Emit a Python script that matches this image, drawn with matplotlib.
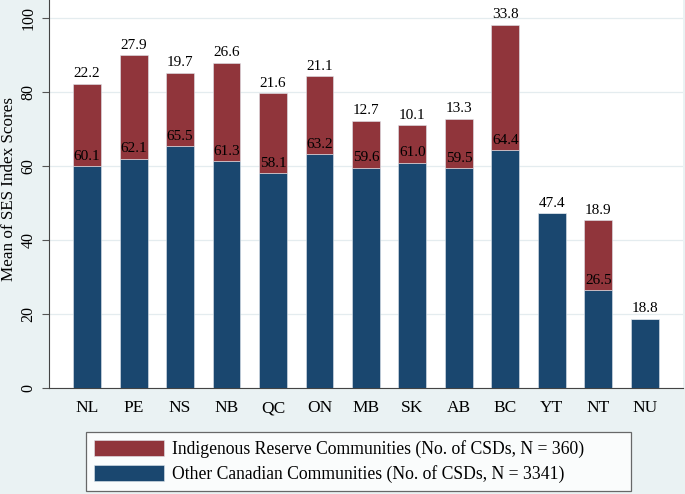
import matplotlib.pyplot as plt
import numpy as np

plt.rcParams['font.family'] = ['Liberation Serif', 'DejaVu Serif']

provinces = ["NL", "PE", "NS", "NB", "QC", "ON", "MB", "SK", "AB", "BC", "YT", "NT", "NU"]
other_vals = [60.1, 62.1, 65.5, 61.3, 58.1, 63.2, 59.6, 61.0, 59.5, 64.4, 47.4, 26.5, 18.8]
reserve_vals = [22.2, 27.9, 19.7, 26.6, 21.6, 21.1, 12.7, 10.1, 13.3, 33.8, None, 18.9, None]

navy = "#1a476f"
maroon = "#90353b"
bg = "#eaf2f3"

fig = plt.figure(figsize=(6.85, 4.94), dpi=100, facecolor=bg)
ax = fig.add_axes([0.0715, 0.2146, 0.9255, 0.7854])
ax.set_facecolor("white")

x = np.arange(len(provinces))
other = np.array(other_vals)
reserve = np.array([v if v is not None else 0 for v in reserve_vals])

ax.bar(x, other, width=0.6, color=navy, edgecolor="#dfe6ec", linewidth=0.4,
       label="Other Canadian Communities (No. of CSDs, N = 3341)", zorder=3)
ax.bar(x, reserve, bottom=other, width=0.6, color=maroon, edgecolor="#dfe6ec", linewidth=0.4,
       label="Indigenous Reserve Communities (No. of CSDs, N = 360)", zorder=3)

# value labels sit just above each segment top
for i in range(len(provinces)):
    ax.text(x[i], other[i] + 0.9, f"{other[i]:.1f}", ha="center", va="bottom",
            fontsize=11, color="black", zorder=4)
    if reserve_vals[i] is not None:
        ax.text(x[i], other[i] + reserve[i] + 1.0, f"{reserve[i]:.1f}", ha="center",
                va="bottom", fontsize=11, color="black", zorder=4)

ax.set_xlim(-0.82, 12.82)
ax.set_ylim(0, 105)
ax.set_yticks([0, 20, 40, 60, 80, 100])
ax.set_yticklabels(["0", "20", "40", "60", "80", "100"], rotation=90, va="center", fontsize=11.5)
ax.set_xticks(x)
ax.set_xticklabels(provinces, fontsize=12.5)
ax.tick_params(axis="x", length=0, pad=9)
ax.tick_params(axis="y", length=5, color="#555555", pad=4)
ax.grid(axis="y", color="#e4ecef", linewidth=0.9, zorder=0)
fig.text(9.5 / 685, 1 - 189 / 494, "Mean of SES Index Scores", rotation=90,
         ha="center", va="center", fontsize=12.3)

for side in ["top", "right"]:
    ax.spines[side].set_visible(False)
ax.spines["left"].set_color("#444444")
ax.spines["bottom"].set_color("#444444")

handles, labels = ax.get_legend_handles_labels()
leg = fig.legend(handles[::-1], labels[::-1], loc="lower left",
                 bbox_to_anchor=(86 / 685, 3.3 / 494, 545 / 685, 59 / 494), mode="expand",
                 ncol=1, fontsize=12.7, frameon=True, fancybox=False, edgecolor="#444444",
                 handlelength=3.97, handleheight=1.02, borderpad=0.45, labelspacing=0.4,
                 handletextpad=0.44, borderaxespad=0)
leg.get_frame().set_linewidth(0.9)
leg.get_frame().set_facecolor("white")

fig.savefig("out.png", dpi=100, facecolor=bg)
